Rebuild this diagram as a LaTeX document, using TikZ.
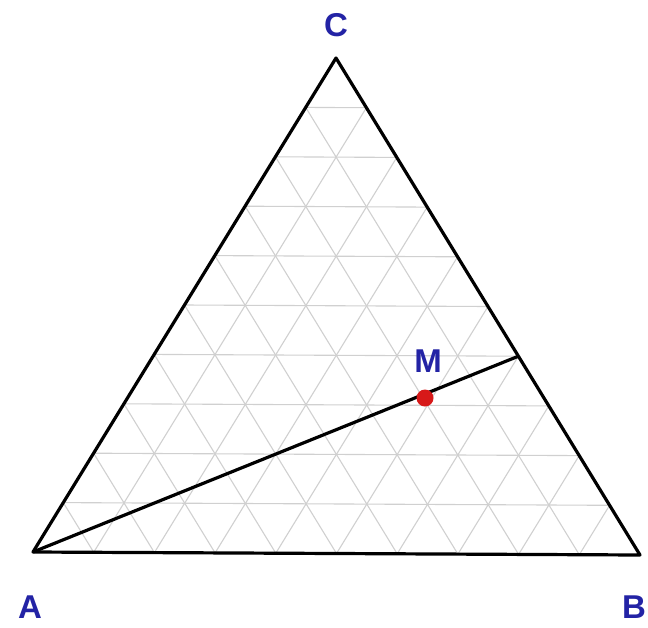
\documentclass[tikz,border=0pt]{standalone}
\usepackage{fontspec}
\setmainfont{Liberation Sans}
\usetikzlibrary{calc}
\definecolor{lblblue}{RGB}{35,35,165}
\definecolor{gridgray}{RGB}{208,208,208}
\definecolor{dotred}{RGB}{215,25,25}
\tikzset{
  gridline/.style={draw=gridgray,line width=1.1pt},
  edge/.style={draw=black,line width=3.2pt,line join=round},
  lbl/.style={text=lblblue,font=\fontsize{33}{33}\selectfont\bfseries,inner sep=0pt},
}
\begin{document}
\begin{tikzpicture}[x=1pt,y=-1pt]
\useasboundingbox (0,0) rectangle (648,627);
\coordinate (A) at (33,552);
\coordinate (B) at (640,555);
\coordinate (C) at (336,58);
% grid
\foreach \k in {1,...,9}{
  \pgfmathsetmacro{\f}{\k/10}
  \pgfmathsetmacro{\g}{1-\k/10}
  \draw[gridline] ($(A)!\f!(C)$) -- ($(B)!\f!(C)$);
  \draw[gridline] ($(A)!\f!(B)$) -- ($(B)!\g!(C)$);
  \draw[gridline] ($(B)!\f!(A)$) -- ($(A)!\g!(C)$);
}
\coordinate (D) at ($(B)!0.4!(C)$);
\draw[edge] (A) -- (B) -- (C) -- cycle;
\draw[edge] (A) -- (D);
\node[circle,fill=dotred,minimum size=17pt,inner sep=0pt] (M) at (425,398) {};
\node[lbl] (lA) at (30,607) {A};
\node[lbl] (lB) at (634,607) {B};
\node[lbl] (lC) at (336,25) {C};
\node[lbl] (lM) at (428,361) {M};
\end{tikzpicture}
\end{document}
